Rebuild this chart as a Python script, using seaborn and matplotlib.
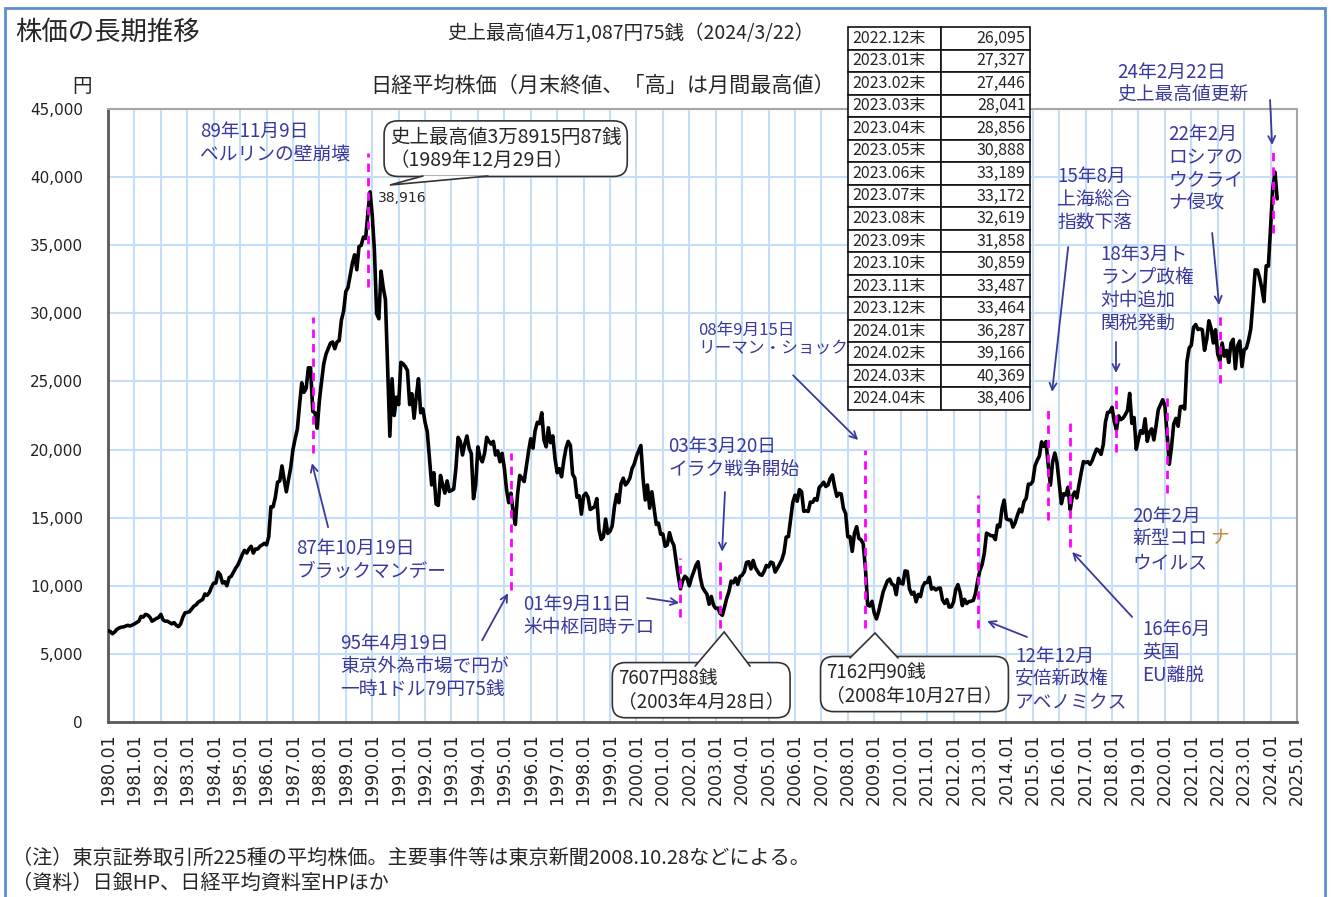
import numpy as np
import pandas as pd
import matplotlib
matplotlib.use("Agg")
import matplotlib.pyplot as plt
from matplotlib.patches import Rectangle, Polygon
import seaborn as sns

sns.set_style("white")
plt.rcParams["font.family"] = ["Noto Sans CJK JP", "DejaVu Sans"]

# Nikkei 225 month-end closes (yen), 1980.01 onwards
nikkei_1980s = [
    6700, 6650, 6480, 6600, 6800, 6900, 6960, 6980, 7040, 7100, 7050, 7116,
    7200, 7300, 7400, 7750, 7700, 7900, 7850, 7700, 7400, 7500, 7600, 7681,
    7900, 7500, 7400, 7400, 7300, 7200, 7300, 7100, 7000, 7200, 7700, 8016,
    8050, 8100, 8300, 8500, 8600, 8800, 8900, 9000, 9400, 9300, 9500, 9893,
    10200, 10200, 11000, 10800, 10200, 10300, 10000, 10600, 10700, 11000, 11300, 11542,
    11900, 12300, 12600, 12400, 12700, 12900, 12400, 12700, 12700, 12900, 13000, 13113,
    13000, 13600, 15800, 15800, 16500, 17600, 17700, 18800, 17800, 16900, 17800, 18701,
    20000, 20800, 21500, 23300, 24900, 24200, 24500, 26000, 26000, 22800, 22700, 21564,
    23600, 25000, 26300, 27000, 27400, 27800, 27900, 27400, 27900, 28000, 29500, 30159,
    31600, 31900, 32800, 33700, 34300, 33200, 34900, 35000, 35600, 35500, 37300, 38916,
]
nikkei_1990s = [
    37200, 34600, 29980, 29600, 33100, 31900, 31000, 25900, 20980, 25200, 22500, 23849,
    23300, 26400, 26300, 26100, 25800, 23300, 24100, 22300, 23900, 25200, 22700, 22984,
    22000, 21300, 19300, 17400, 18300, 16000, 15900, 18100, 17400, 16800, 17700, 16925,
    17000, 17100, 18600, 20900, 20600, 19600, 20400, 21000, 20100, 19700, 16400, 17417,
    20200, 19400, 19100, 19700, 20900, 20600, 20400, 20600, 19600, 19900, 19100, 19723,
    18650, 17050, 16100, 16800, 15400, 14500, 16700, 18100, 17900, 17650, 18750, 19868,
    20800, 20100, 21400, 22000, 21900, 22700, 20700, 20200, 21600, 20500, 21000, 19361,
    18300, 18600, 18000, 19200, 20100, 20600, 20300, 18200, 17900, 16500, 16600, 15259,
    16600, 16800, 16500, 15600, 15700, 15800, 16400, 14100, 13400, 13600, 14900, 13842,
    14000, 14400, 15800, 16700, 16100, 17500, 17900, 17400, 17600, 17900, 18600, 18934,
]
nikkei_2000s = [
    19500, 19900, 20300, 17900, 16300, 17400, 15700, 16900, 15700, 14500, 14600, 13786,
    13800, 12900, 13000, 13900, 13300, 12970, 11860, 10710, 9775, 10370, 10700, 10543,
    9997, 10588, 11025, 11493, 11764, 10622, 9878, 9619, 9383, 8640, 9216, 8579,
    8340, 8363, 7973, 7831, 8425, 9083, 9563, 10344, 10219, 10560, 10101, 10677,
    10783, 11042, 11715, 11762, 11236, 11859, 11326, 11082, 10824, 10771, 11069, 11489,
    11388, 11740, 11669, 11009, 11277, 11584, 11900, 12414, 13574, 13607, 14872, 16111,
    16650, 16205, 17060, 16906, 15467, 15505, 15457, 16141, 16128, 16399, 16274, 17226,
    17383, 17604, 17288, 17400, 17876, 18138, 17249, 16569, 16786, 16737, 15681, 15308,
    13592, 13603, 12526, 13850, 14338, 13481, 13377, 13073, 11260, 8577, 8512, 8860,
    7994, 7568, 8110, 8828, 9523, 9958, 10357, 10493, 10133, 10035, 9346, 10546,
]
nikkei_2010s = [
    10198, 10126, 11090, 11057, 9769, 9383, 9537, 8824, 9369, 9202, 9937, 10229,
    10238, 10624, 9755, 9850, 9694, 9816, 9833, 8955, 8700, 8988, 8435, 8455,
    8803, 9723, 10084, 9521, 8543, 9007, 8695, 8840, 8870, 8928, 9446, 10395,
    11139, 11559, 12398, 13861, 13775, 13677, 13668, 13389, 14456, 14328, 15662, 16291,
    14915, 14841, 14828, 14304, 14632, 15162, 15621, 15425, 16174, 16414, 17460, 17451,
    17674, 18798, 19207, 19520, 20563, 20236, 20585, 18890, 17388, 19083, 19747, 19034,
    17518, 16027, 16759, 16666, 17235, 15576, 16569, 16887, 16450, 17425, 18308, 19114,
    19041, 19119, 18909, 19197, 19651, 20033, 19925, 19646, 20356, 22012, 22725, 22765,
    23098, 22068, 21454, 22468, 22202, 22305, 22554, 22865, 24120, 21920, 22351, 20015,
    20773, 21385, 21206, 22259, 20601, 21276, 21522, 20704, 21756, 22927, 23294, 23657,
]
# 2020.01 - 2022.11
nikkei_2020s = [
    23205, 21143, 18917, 20194, 21878, 22288, 21710, 23140, 23185, 22977, 26434, 27444,
    27663, 28966, 29179, 28813, 28860, 28792, 27284, 28090, 29453, 28893, 27822, 28792,
    27002, 26527, 27821, 26848, 27280, 26393, 27802, 28092, 25937, 27587, 27969,
]
# the table in the chart: 2022.12 - 2024.04
table_labels = ["2022.12末", "2023.01末", "2023.02末", "2023.03末", "2023.04末",
                "2023.05末", "2023.06末", "2023.07末", "2023.08末", "2023.09末",
                "2023.10末", "2023.11末", "2023.12末", "2024.01末", "2024.02末",
                "2024.03末", "2024.04末"]
table_values = [26095, 27327, 27446, 28041, 28856, 30888, 33189, 33172, 32619,
                31858, 30859, 33487, 33464, 36287, 39166, 40369, 38406]

closes = nikkei_1980s + nikkei_1990s + nikkei_2000s + nikkei_2010s + nikkei_2020s + table_values
df = pd.DataFrame({"t": 1980 + np.arange(len(closes)) / 12, "close": closes})

W, H = 1331, 897
fig = plt.figure(figsize=(W / 100, H / 100), dpi=100)
ax = fig.add_axes([108 / W, 1 - 722 / H, (1297 - 108) / W, (722 - 109) / H])

sns.lineplot(data=df, x="t", y="close", ax=ax, color="black", lw=2.6, zorder=3)

ax.set_xlim(1980, 2025)
ax.set_ylim(0, 45000)
years = list(range(1980, 2026))
ax.set_xticks(years)
ax.set_xticklabels([f"{y}.01" for y in years], rotation=90, fontsize=12.5,
                   fontfamily="DejaVu Sans", color="#222222")
yt = list(range(0, 45001, 5000))
ax.set_yticks(yt)
ax.set_yticklabels([f"{v:,}" for v in yt], fontsize=11, fontfamily="DejaVu Sans",
                   color="#222222")
ax.set_xlabel("")
ax.set_ylabel("")
ax.tick_params(axis="x", direction="out", length=5, width=1.3, color="#555555", pad=3)
ax.tick_params(axis="y", direction="out", length=6, width=1.3, color="#555555", pad=12)
ax.grid(True, color="#c6ddf6", lw=1.5)
ax.set_axisbelow(True)
for s in ["left", "bottom"]:
    ax.spines[s].set_color("#595959")
    ax.spines[s].set_linewidth(2)
for s in ["top", "right"]:
    ax.spines[s].set_color("#a6a6a6")
    ax.spines[s].set_linewidth(1.5)

blue = "#3a3a9c"
dash = (0, (3, 2.2))

# event markers (x, from, to)
events = [
    (1989 + 10 / 12, 31900, 41800),
    (1987 + 9 / 12, 19750, 29700),
    (1995 + 3 / 12, 9700, 19750),
    (2001 + 8 / 12, 7700, 12050),
    (2003 + 2 / 12, 6900, 12050),
    (2008 + 8 / 12, 6900, 20000),
    (2012 + 11 / 12, 6900, 16650),
    (2015 + 7 / 12, 14850, 23000),
    (2016 + 5 / 12, 12850, 21950),
    (2018 + 2 / 12, 19800, 25100),
    (2020 + 1 / 12, 16800, 24000),
    (2022 + 1 / 12, 24900, 30000),
    (2024 + 1 / 12, 35900, 41850),
]
for x, y0, y1 in events:
    ax.vlines(x, y0, y1, colors="#ff00ff", linestyles=[dash], lw=2, zorder=4)

labels = [
    ("89年11月9日\nベルリンの壁崩壊", 1983.48, 44100, 13.5, None),
    ("87年10月19日\nブラックマンデー", 1987.12, 13500, 13.5, ((1988.33, 14300), (1987.72, 19000))),
    ("95年4月19日\n東京外為市場で円が\n一時1ドル79円75銭", 1988.8, 6550, 13.5, ((1994.16, 6000), (1995.14, 9450))),
    ("01年9月11日\n米中枢同時テロ", 1995.71, 9400, 13.5, ((2000.4, 9100), (2001.62, 8740))),
    ("03年3月20日\nイラク戦争開始", 2001.2, 21000, 13.5, ((2003.35, 16880), (2003.24, 12500))),
    ("08年9月15日\nリーマン・ショック", 2002.33, 29400, 12, ((2005.93, 25450), (2008.39, 20700))),
    ("12年12月\n安倍新政権\nアベノミクス", 2014.33, 5600, 13.5, ((2014.78, 6240), (2013.27, 7410))),
    ("15年8月\n上海総合\n指数下落", 2015.92, 40800, 13.5, ((2016.34, 34870), (2015.73, 24230))),
    ("16年6月\n英国\nEU離脱", 2019.14, 7550, 13.5, ((2018.76, 7710), (2016.49, 12480))),
    ("18年3月ト\nランプ政権\n対中追加\n関税発動", 2017.55, 35100, 13.5, ((2018.15, 27900), (2018.15, 25620))),
    ("20年2月\n新型コロ\nウイルス", 2018.76, 15850, 13.5, None),
    ("22年2月\nロシアの\nウクライ\nナ侵攻", 2020.12, 43900, 13.5, ((2021.79, 35900), (2022.05, 30610))),
    ("24年2月22日\n史上最高値更新", 2018.19, 48450, 13.5, ((2023.98, 45660), (2024.06, 42360))),
]
for text, x, y, size, arrow in labels:
    ax.text(x, y, text, color=blue, fontsize=size, ha="left", va="top",
            linespacing=1.12, zorder=5)
    if arrow:
        ax.annotate("", xy=arrow[1], xytext=arrow[0],
                    arrowprops=dict(arrowstyle="->,head_length=0.5,head_width=0.25",
                                    color=blue, lw=1.3, shrinkA=0, shrinkB=0), zorder=5)
ax.text(2021.71, 14300, "ナ", color="#c98a3a", fontsize=13.5, ha="left", va="top", zorder=5)

# speech-bubble callouts: text, position, size, tail (base left, base right, tip)
callouts = [
    ("史上最高値3万8915円87銭\n（1989年12月29日）", 1990.67, 43700, 14,
     ((1991.92, 40080), (1994.38, 40080), (1990.67, 39420))),
    ("7607円88銭\n（2003年4月28日）", 1999.3, 3950, 13.5,
     ((2002.22, 4100), (2004.3, 4100), (2003.32, 6610))),
    ("7162円90銭\n（2008年10月27日）", 2007.18, 4400, 13.5,
     ((2008.08, 4700), (2009.9, 4700), (2009.03, 6530))),
]
for text, x, y, size, (b0, b1, tip) in callouts:
    ax.text(x, y, text, fontsize=size, ha="left", va="top", linespacing=1.12, zorder=6,
            bbox=dict(boxstyle="round,pad=0.3,rounding_size=0.7", fc="white",
                      ec="#333333", lw=1.2))
    ax.add_patch(Polygon([b0, tip, b1], closed=True, fc="white", ec="none", zorder=7))
    ax.plot([b0[0], tip[0], b1[0]], [b0[1], tip[1], b1[1]], color="#333333", lw=1.2,
            zorder=7, solid_joinstyle="miter")
ax.text(1990.22, 38470, "38,916", fontsize=10, ha="left", va="center",
        fontfamily="DejaVu Sans", zorder=6)

# figure texts
fig.text(15 / W, 1 - 32 / H, "株価の長期推移", fontsize=19, va="center")
fig.text(447 / W, 1 - 34 / H, "史上最高値4万1,087円75銭（2024/3/22）", fontsize=14, va="center")
fig.text(82 / W, 1 - 86 / H, "円", fontsize=14, ha="center", va="center")
fig.text(370 / W, 1 - 86 / H, "日経平均株価（月末終値、「高」は月間最高値）", fontsize=15.2, va="center")
fig.text(12 / W, 1 - 858 / H,
         "（注）東京証券取引所225種の平均株価。主要事件等は東京新聞2008.10.28などによる。",
         fontsize=14.5, va="center")
fig.text(12 / W, 1 - 883 / H, "（資料）日銀HP、日経平均資料室HPほか", fontsize=14.5, va="center")

fig.patches.append(Rectangle((5 / W, -0.02), 1320 / W, 1 - 8 / H + 0.02,
                             transform=fig.transFigure, fill=False,
                             ec="#5b8fd0", lw=2))

# data table
tab_ax = fig.add_axes([848 / W, 1 - 410 / H, (1030 - 848) / W, (410 - 27) / H])
tab_ax.axis("off")
cells = [[lab, f"{v:,}"] for lab, v in zip(table_labels, table_values)]
tbl = tab_ax.table(cellText=cells, bbox=[0, 0, 1, 1], colWidths=[0.51, 0.49], cellLoc="left")
tbl.auto_set_font_size(False)
tbl.set_fontsize(11.5)
for (r, c), cell in tbl.get_celld().items():
    cell.set_edgecolor("#111111")
    cell.set_linewidth(1.2)
    cell.PAD = 0.05
    if c == 1:
        cell.get_text().set_horizontalalignment("right")

fig.savefig("out.png", dpi=100, facecolor="white")
